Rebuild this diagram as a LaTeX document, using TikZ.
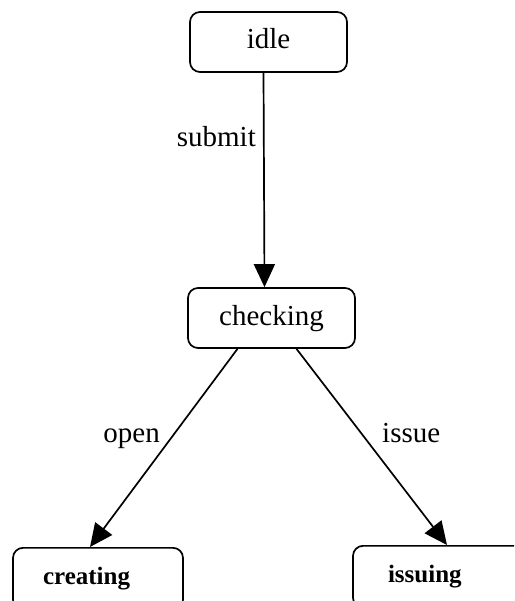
\documentclass[tikz,border=0pt]{standalone}
\usepackage{fontspec}
\setmainfont{Liberation Serif}
\usetikzlibrary{arrows.meta}
\tikzset{
  statebox/.style={draw=black, line width=1.7pt, rounded corners=10pt, inner sep=0pt,
    font=\fontsize{29}{29}\selectfont, text height=20pt, text depth=6pt},
  lowbox/.style={statebox, font=\bfseries\fontsize{25}{25}\selectfont, align=left,
    text height=17pt, text depth=5pt},
  conn/.style={line width=1.7pt, -{Triangle[length=23pt,width=21pt]}},
  edgelbl/.style={font=\fontsize{29}{29}\selectfont, inner sep=0pt}
}
\begin{document}
\begin{tikzpicture}[x=1pt,y=-1pt]
\clip (0,0) rectangle (514,601);
\fill[white] (0,0) rectangle (514,601);
\node[statebox, minimum width=157pt, minimum height=60pt] (idle) at (268.5,42) {idle};
\node[statebox, minimum width=167pt, minimum height=60pt] (checking) at (271.5,318) {checking};
\node[lowbox, anchor=north, minimum width=170pt, minimum height=62pt, text width=110pt] (creating) at (98,547) {creating};
\node[lowbox, anchor=north, minimum width=190pt, minimum height=62pt, text width=120pt] (issuing) at (448,545) {issuing};
\draw[conn] ([xshift=-5pt]idle.south) -- ([xshift=-7pt]checking.north);
\draw[conn] ([xshift=-34pt]checking.south) -- ([xshift=-8pt]creating.north);
\draw[conn] ([xshift=25pt]checking.south) -- ([xshift=-1pt]issuing.north);
\node[edgelbl, anchor=base east] (submitlbl) at (256,147) {submit};
\node[edgelbl, anchor=base east] (openlbl) at (160,442) {open};
\node[edgelbl, anchor=base west] (issuelbl) at (382,442) {issue};
\end{tikzpicture}
\end{document}
